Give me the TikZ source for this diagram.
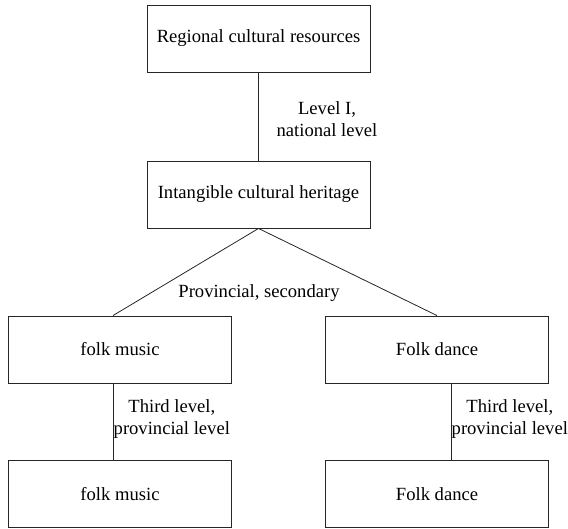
\documentclass[tikz,border=0pt]{standalone}
\usepackage{fontspec}
\setmainfont{Liberation Serif}
\begin{document}
\begin{tikzpicture}[x=1pt,y=-1pt,
  box/.style={draw=black!85, line width=0.9pt, minimum width=223pt, minimum height=67pt, inner sep=0pt, font=\rmfamily\fontsize{18.6}{22}\selectfont},
  lbl/.style={inner sep=0pt, align=center, font=\rmfamily\fontsize{18.6}{22}\selectfont},
  conn/.style={draw=black!85, line width=0.8pt}]
\useasboundingbox (0,0) rectangle (568,528);
\node[box] (top) at (258.5,38.5) {Regional cultural resources};
\node[box] (mid) at (258.5,194.5) {Intangible cultural heritage};
\node[box] (fm1) at (120,349.5) {folk music};
\node[box] (fd1) at (437,349.5) {Folk dance};
\node[box] (fm2) at (120,494) {folk music};
\node[box] (fd2) at (437,494) {Folk dance};
\coordinate (la) at ([xshift=-7pt]fm1.north);
\coordinate (lb) at ([xshift=-7pt]fm1.south);
\coordinate (ra) at ([xshift=14pt]fd1.south);
\draw[conn] (top.south) -- (mid.north);
\draw[conn] (mid.south) -- (la);
\draw[conn] (mid.south) -- (fd1.north);
\draw[conn] (lb) -- (lb |- fm2.north);
\draw[conn] (ra) -- (ra |- fd2.north);
\node[lbl] (l1) at (327,119) {Level I,\\national level};
\node[lbl] (l2) at (259,293) {Provincial, secondary};
\node[lbl, anchor=west] (l3) at ([xshift=0.5pt]lb |- 0,419) {Third level,\\provincial level};
\node[lbl, anchor=west] (l4) at ([xshift=0.5pt]ra |- 0,419) {Third level,\\provincial level};
\end{tikzpicture}
\end{document}
